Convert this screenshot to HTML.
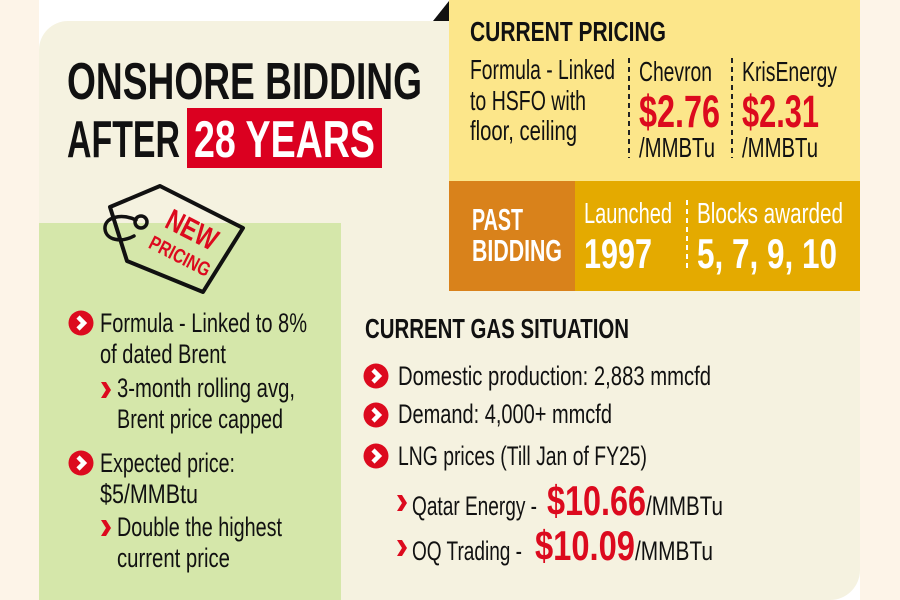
<!DOCTYPE html>
<html><head><meta charset="utf-8"><style>
html,body{margin:0;padding:0;background:#fdf4e8;}
svg{display:block;}
text{font-family:"Liberation Sans Narrow","Liberation Sans",sans-serif;}
.b{font-weight:bold;}
</style></head><body>
<svg width="900" height="600" viewBox="0 0 900 600" xmlns="http://www.w3.org/2000/svg">
<rect x="0" y="0" width="900" height="600" fill="#fdf4e8"/>
<rect x="39" y="0" width="821" height="600" fill="#ffffff"/>
<path d="M39,50 A29,29 0 0 1 68,21 L860,21 L860,570 A30,30 0 0 1 830,600 L39,600 Z" fill="#f5f2e0"/>
<!-- green box -->
<rect x="39" y="223" width="302" height="377" fill="#d5e7aa"/>
<!-- yellow box -->
<rect x="449" y="0" width="411" height="181" fill="#fce68a"/>
<polygon points="433,21 449,21 449,1" fill="#111"/>
<rect x="449" y="181" width="126" height="110" fill="#d9821b"/>
<rect x="575" y="181" width="285" height="110" fill="#e4aa00"/>

<!-- Title -->
<text class="b" x="67" y="99" font-size="52" textLength="355" lengthAdjust="spacingAndGlyphs" fill="#111">ONSHORE BIDDING</text>
<text class="b" x="67" y="157" font-size="52" textLength="113" lengthAdjust="spacingAndGlyphs" fill="#111">AFTER</text>
<rect x="187" y="108" width="195" height="60" fill="#db0020"/>
<text class="b" x="194" y="157" font-size="52" textLength="181" lengthAdjust="spacingAndGlyphs" fill="#fff">28 YEARS</text>

<!-- Tag icon -->
<polygon points="160,186 243,228 203,292 127,261 110,207" fill="none" stroke="#111" stroke-width="4" stroke-linejoin="round"/>
<circle cx="141" cy="222" r="6" fill="none" stroke="#111" stroke-width="3.5"/>
<path d="M136,220 C122,213 104,217 105,229 C106,240 121,243 134,236" fill="none" stroke="#111" stroke-width="3.5" stroke-linecap="round"/>
<g transform="translate(192,230) rotate(27)">
<text class="b" x="0" y="10" font-size="30" text-anchor="middle" textLength="54" lengthAdjust="spacingAndGlyphs" fill="#dc0a1e">NEW</text>
</g>
<g transform="translate(180,256) rotate(27)">
<text class="b" x="0" y="7" font-size="20" text-anchor="middle" textLength="66" lengthAdjust="spacingAndGlyphs" fill="#dc0a1e">PRICING</text>
</g>

<!-- Current pricing -->
<text class="b" x="470" y="41" font-size="28" textLength="196" lengthAdjust="spacingAndGlyphs" fill="#111">CURRENT PRICING</text>
<text x="470" y="79" font-size="28" textLength="145" lengthAdjust="spacingAndGlyphs" fill="#111">Formula - Linked</text>
<text x="470" y="110" font-size="28" textLength="116" lengthAdjust="spacingAndGlyphs" fill="#111">to HSFO with</text>
<text x="470" y="140" font-size="28" textLength="107" lengthAdjust="spacingAndGlyphs" fill="#111">floor, ceiling</text>
<line x1="629" y1="58" x2="629" y2="158" stroke="#222" stroke-width="2" stroke-dasharray="5,4"/>
<line x1="732" y1="58" x2="732" y2="158" stroke="#222" stroke-width="2" stroke-dasharray="5,4"/>
<text x="639" y="81" font-size="28" textLength="73" lengthAdjust="spacingAndGlyphs" fill="#111">Chevron</text>
<text x="742" y="81" font-size="28" textLength="95" lengthAdjust="spacingAndGlyphs" fill="#111">KrisEnergy</text>
<text class="b" x="639" y="127" font-size="45" textLength="81" lengthAdjust="spacingAndGlyphs" fill="#dc0a1e">$2.76</text>
<text class="b" x="742" y="127" font-size="45" textLength="77" lengthAdjust="spacingAndGlyphs" fill="#dc0a1e">$2.31</text>
<text x="639" y="157" font-size="28" textLength="76" lengthAdjust="spacingAndGlyphs" fill="#111">/MMBTu</text>
<text x="742" y="157" font-size="28" textLength="76" lengthAdjust="spacingAndGlyphs" fill="#111">/MMBTu</text>

<!-- Past bidding -->
<text class="b" x="472" y="230" font-size="31" textLength="51" lengthAdjust="spacingAndGlyphs" fill="#fff">PAST</text>
<text class="b" x="472" y="261" font-size="31" textLength="90" lengthAdjust="spacingAndGlyphs" fill="#fff">BIDDING</text>
<text x="584" y="223" font-size="29" textLength="88" lengthAdjust="spacingAndGlyphs" fill="#fff">Launched</text>
<text class="b" x="584" y="268" font-size="42" textLength="68" lengthAdjust="spacingAndGlyphs" fill="#fff">1997</text>
<line x1="687" y1="200" x2="687" y2="271" stroke="#fff" stroke-width="2" stroke-dasharray="5,4"/>
<text x="697" y="223" font-size="29" textLength="146" lengthAdjust="spacingAndGlyphs" fill="#fff">Blocks awarded</text>
<text class="b" x="697" y="268" font-size="42" textLength="140" lengthAdjust="spacingAndGlyphs" fill="#fff">5, 7, 9, 10</text>

<!-- New pricing bullets -->
<g transform="translate(81,323)"><circle r="12.5" fill="#dc0a1e"/><polyline points="-3,-6 3,0 -3,6" fill="none" stroke="#fff" stroke-width="4.5"/></g>
<text x="100" y="332" font-size="27" textLength="207" lengthAdjust="spacingAndGlyphs" fill="#111">Formula - Linked to 8%</text>
<text x="100" y="363" font-size="27" textLength="126" lengthAdjust="spacingAndGlyphs" fill="#111">of dated Brent</text>
<path transform="translate(101,382)" d="M0,0 L5,0 L10,8 L5,16 L0,16 L5,8 Z" fill="#dc0a1e"/>
<text x="117" y="397" font-size="27" textLength="178" lengthAdjust="spacingAndGlyphs" fill="#111">3-month rolling avg,</text>
<text x="117" y="428" font-size="27" textLength="166" lengthAdjust="spacingAndGlyphs" fill="#111">Brent price capped</text>
<g transform="translate(81,463)"><circle r="12.5" fill="#dc0a1e"/><polyline points="-3,-6 3,0 -3,6" fill="none" stroke="#fff" stroke-width="4.5"/></g>
<text x="100" y="472" font-size="27" textLength="135" lengthAdjust="spacingAndGlyphs" fill="#111">Expected price:</text>
<text x="100" y="503" font-size="27" textLength="98" lengthAdjust="spacingAndGlyphs" fill="#111">$5/MMBtu</text>
<path transform="translate(101,520)" d="M0,0 L5,0 L10,8 L5,16 L0,16 L5,8 Z" fill="#dc0a1e"/>
<text x="117" y="536" font-size="27" textLength="165" lengthAdjust="spacingAndGlyphs" fill="#111">Double the highest</text>
<text x="117" y="567" font-size="27" textLength="113" lengthAdjust="spacingAndGlyphs" fill="#111">current price</text>

<!-- Current gas situation -->
<text class="b" x="365" y="338" font-size="28" textLength="264" lengthAdjust="spacingAndGlyphs" fill="#111">CURRENT GAS SITUATION</text>
<g transform="translate(376,376)"><circle r="12.5" fill="#dc0a1e"/><polyline points="-3,-6 3,0 -3,6" fill="none" stroke="#fff" stroke-width="4.5"/></g>
<text x="398" y="385" font-size="27" textLength="313" lengthAdjust="spacingAndGlyphs" fill="#111">Domestic production: 2,883 mmcfd</text>
<g transform="translate(376,415)"><circle r="12.5" fill="#dc0a1e"/><polyline points="-3,-6 3,0 -3,6" fill="none" stroke="#fff" stroke-width="4.5"/></g>
<text x="398" y="423" font-size="27" textLength="214" lengthAdjust="spacingAndGlyphs" fill="#111">Demand: 4,000+ mmcfd</text>
<g transform="translate(376,456)"><circle r="12.5" fill="#dc0a1e"/><polyline points="-3,-6 3,0 -3,6" fill="none" stroke="#fff" stroke-width="4.5"/></g>
<text x="398" y="465" font-size="27" textLength="249" lengthAdjust="spacingAndGlyphs" fill="#111">LNG prices (Till Jan of FY25)</text>
<path transform="translate(397,495)" d="M0,0 L5,0 L10,8 L5,16 L0,16 L5,8 Z" fill="#dc0a1e"/>
<text x="412" y="515" font-size="27" textLength="125" lengthAdjust="spacingAndGlyphs" fill="#111">Qatar Energy -</text>
<text class="b" x="547" y="515" font-size="42" textLength="99" lengthAdjust="spacingAndGlyphs" fill="#dc0a1e">$10.66</text>
<text x="646" y="515" font-size="27" textLength="77" lengthAdjust="spacingAndGlyphs" fill="#111">/MMBTu</text>
<path transform="translate(397,540)" d="M0,0 L5,0 L10,8 L5,16 L0,16 L5,8 Z" fill="#dc0a1e"/>
<text x="412" y="560" font-size="27" textLength="110" lengthAdjust="spacingAndGlyphs" fill="#111">OQ Trading -</text>
<text class="b" x="535" y="560" font-size="42" textLength="100" lengthAdjust="spacingAndGlyphs" fill="#dc0a1e">$10.09</text>
<text x="635" y="560" font-size="27" textLength="78" lengthAdjust="spacingAndGlyphs" fill="#111">/MMBTu</text>
</svg>
</body></html>
